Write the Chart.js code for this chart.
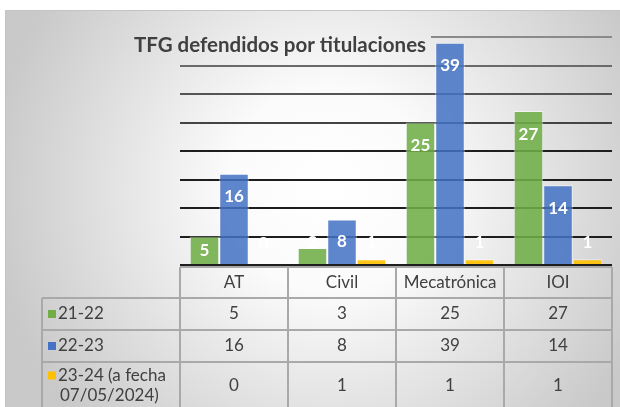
<!DOCTYPE html>
<html><head><meta charset="utf-8">
<script src="https://cdn.jsdelivr.net/npm/chart.js@4"></script>
<style>html,body{margin:0;padding:0;background:#fff}#wrap{position:relative;width:620px;height:407px}</style>
</head><body><div id="wrap"><canvas id="c" width="620" height="407"></canvas></div>
<script>
const categories = ['AT', 'Civil', 'Mecatrónica', 'IOI'];
const seriesLabels = [['21-22'], ['22-23'], ['23-24 (a fecha', '07/05/2024)']];
const values2122 = [5, 3, 25, 27];
const values2223 = [16, 8, 39, 14];
const values2324 = [0, 1, 1, 1];
const yMax = 40;
const yStep = 5;
const chartTitle = 'TFG defendidos por titulaciones';

const barColors = ['rgba(112,173,71,0.88)', 'rgba(68,114,196,0.86)', 'rgba(255,192,0,0.9)'];
const keyColors = ['#70AD47', '#4472C4', '#FFC000'];
const FONT = 'Lato, "Open Sans", sans-serif';

function bgGradient(ctx) {
  const g = ctx.createRadialGradient(330, 190, 0, 330, 190, 340);
  g.addColorStop(0, '#ffffff');
  g.addColorStop(0.3, '#fbfbfb');
  g.addColorStop(1, '#c9c9c9');
  return g;
}

const bgPlugin = {
  id: 'bg',
  beforeDraw(chart) {
    const ctx = chart.ctx;
    ctx.save();
    ctx.fillStyle = '#ffffff';
    ctx.fillRect(0, 0, chart.width, chart.height);
    ctx.fillStyle = bgGradient(ctx);
    ctx.fillRect(5, 10, chart.width - 5, chart.height - 10);
    ctx.strokeStyle = '#c4c4c4';
    ctx.lineWidth = 1;
    ctx.beginPath();
    ctx.moveTo(5, 10.5); ctx.lineTo(chart.width, 10.5);
    ctx.moveTo(5.5, 10); ctx.lineTo(5.5, chart.height);
    ctx.stroke();
    ctx.restore();
  },
  beforeDatasetsDraw(chart) {
    // title box hides the top gridline behind it
    const ctx = chart.ctx;
    ctx.save();
    ctx.fillStyle = bgGradient(ctx);
    ctx.fillRect(120, 32, 311, 10);
    ctx.restore();
  }
};

const labelPlugin = {
  id: 'labels',
  afterDatasetsDraw(chart) {
    const ctx = chart.ctx;
    ctx.save();
    ctx.font = 'bold 17px ' + FONT;
    ctx.fillStyle = '#ffffff';
    ctx.textAlign = 'center';
    ctx.textBaseline = 'middle';
    chart.data.datasets.forEach((ds, di) => {
      const meta = chart.getDatasetMeta(di);
      meta.data.forEach((bar, i) => {
        const h = bar.base - bar.y;
        const ly = h >= 20 ? bar.y + Math.min(23, h / 2) : bar.base - 21;
        ctx.fillText(String(ds.data[i]), bar.x, ly);
      });
    });
    ctx.restore();
  },
  afterDraw(chart) {
    const ctx = chart.ctx;
    const ca = chart.chartArea;
    ctx.save();
    // title
    ctx.font = 'bold 20.5px ' + FONT;
    ctx.fillStyle = '#404040';
    ctx.textAlign = 'center';
    ctx.textBaseline = 'middle';
    ctx.fillText(chartTitle, 280, 45);

    // data table
    const n = categories.length;
    const cw = (ca.right - ca.left) / n;
    const top = ca.bottom + 2;
    const rowsY = [top, top + 31, top + 63, top + 95, chart.height];
    const leftCol = 42;
    ctx.strokeStyle = '#a9a9a9';
    ctx.lineWidth = 2;
    ctx.beginPath();
    ctx.moveTo(ca.left, top); ctx.lineTo(ca.right, top);
    for (let r = 1; r <= 3; r++) {
      ctx.moveTo(leftCol, rowsY[r]); ctx.lineTo(ca.right, rowsY[r]);
    }
    for (let c = 0; c <= n; c++) {
      const x = ca.left + c * cw;
      ctx.moveTo(x, top); ctx.lineTo(x, chart.height);
    }
    ctx.moveTo(leftCol, rowsY[1]); ctx.lineTo(leftCol, chart.height);
    ctx.stroke();

    ctx.font = '17px ' + FONT;
    ctx.fillStyle = '#404040';
    ctx.textAlign = 'center';
    categories.forEach((cat, i) => {
      ctx.fillText(cat, ca.left + (i + 0.5) * cw, (rowsY[0] + rowsY[1]) / 2);
    });
    const allVals = [values2122, values2223, values2324];
    allVals.forEach((vals, r) => {
      const cy = (rowsY[r + 1] + rowsY[r + 2]) / 2 + (r === 2 ? 1 : 0);
      vals.forEach((v, i) => {
        ctx.fillText(String(v), ca.left + (i + 0.5) * cw, cy);
      });
      // legend key
      const lines = seriesLabels[r];
      const firstY = lines.length > 1 ? cy - 10 : cy;
      ctx.fillStyle = keyColors[r];
      ctx.fillRect(leftCol + 6, firstY - 4, 8, 8);
      ctx.fillStyle = '#404040';
      ctx.textAlign = 'left';
      lines.forEach((t, k) => {
        ctx.fillText(t, leftCol + (k === 0 ? 16 : 18), firstY + k * 20);
      });
      ctx.textAlign = 'center';
    });
    ctx.restore();
  }
};

const gridColor = (c) => {
  const v = c.tick ? c.tick.value : 0;
  if (v >= 40) return '#8a8a8a';
  if (v >= 35) return '#6a6a6a';
  if (v >= 30) return '#555555';
  if (v >= 25) return '#444444';
  return '#1e1e1e';
};

new Chart(document.getElementById('c'), {
  type: 'bar',
  data: {
    labels: categories,
    datasets: [
      { label: seriesLabels[0].join(' '), data: values2122, backgroundColor: barColors[0] },
      { label: seriesLabels[1].join(' '), data: values2223, backgroundColor: barColors[1] },
      { label: seriesLabels[2].join(' '), data: values2324, backgroundColor: barColors[2] }
    ]
  },
  options: {
    responsive: false,
    devicePixelRatio: 1,
    animation: false,
    layout: { padding: { left: 180, right: 8, top: 37, bottom: 142 } },
    datasets: {
      bar: {
        categoryPercentage: 0.82,
        barPercentage: 1,
        borderWidth: 1,
        borderColor: 'rgba(255,255,255,0.55)'
      }
    },
    plugins: { legend: { display: false }, title: { display: false }, tooltip: { enabled: false } },
    scales: {
      x: {
        display: true,
        ticks: { display: false },
        grid: { display: false, drawTicks: false },
        border: { display: false }
      },
      y: {
        min: 0, max: yMax,
        ticks: { display: false, stepSize: yStep },
        grid: { color: gridColor, lineWidth: 2, drawTicks: false, tickLength: 0 },
        border: { display: false }
      }
    }
  },
  plugins: [bgPlugin, labelPlugin]
});
</script>
</body></html>
